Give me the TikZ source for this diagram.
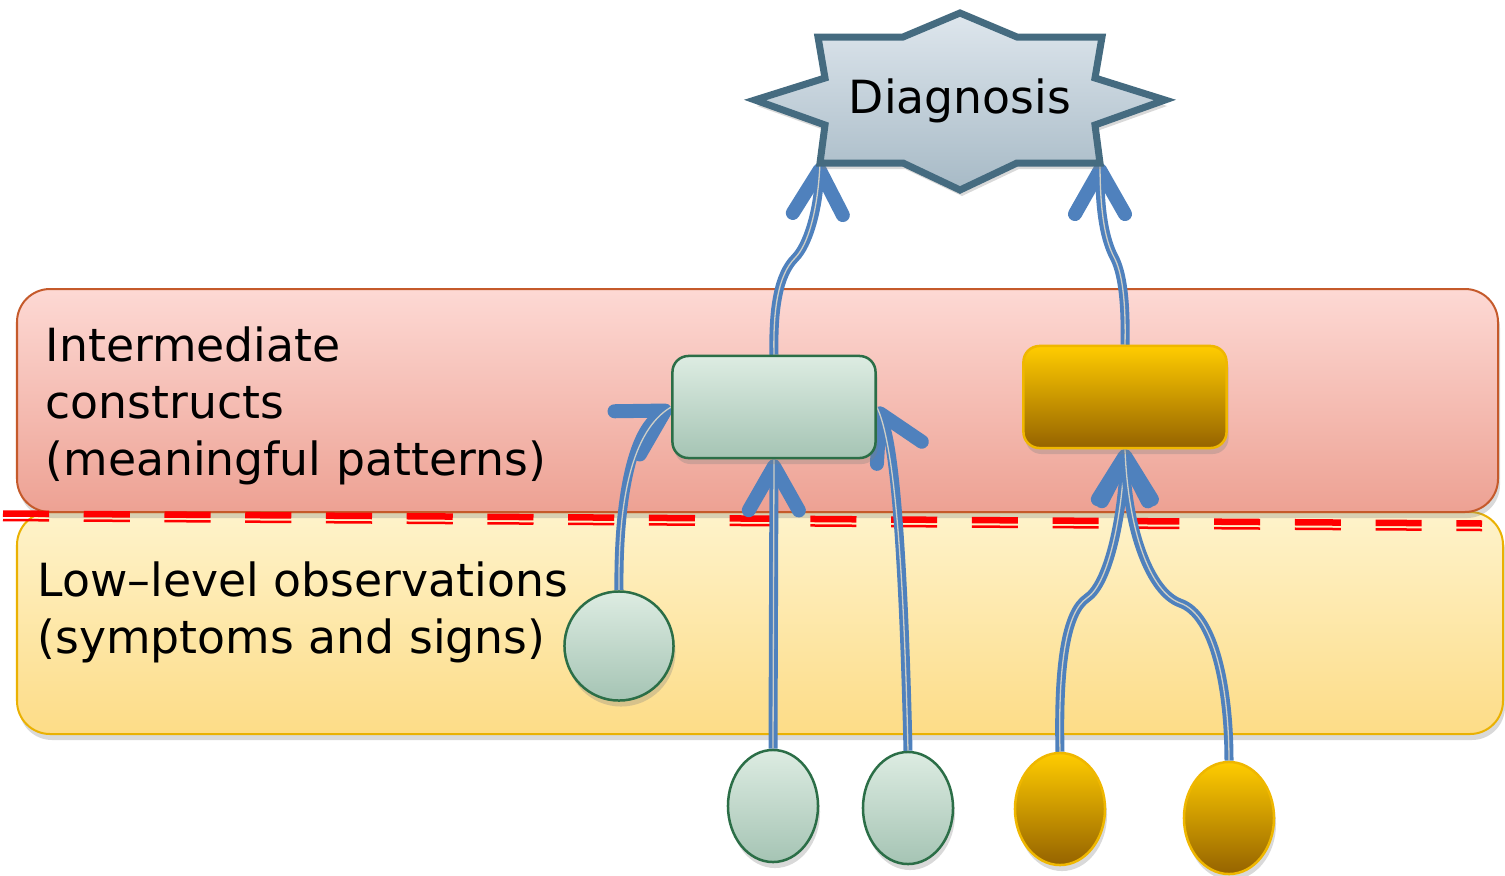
\documentclass[tikz,border=0pt]{standalone}
\usepackage{fontspec}
\setmainfont{DejaVu Sans}
\usetikzlibrary{arrows.meta,shapes.geometric,shadows}

\definecolor{linkblue}{HTML}{4F81BD}
\definecolor{gapgray}{HTML}{CFCFC6}
\definecolor{redtop}{HTML}{FDD9D4}
\definecolor{redbot}{HTML}{EDA193}
\definecolor{redline}{HTML}{C55A2B}
\definecolor{yeltop}{HTML}{FEF3CB}
\definecolor{yelbot}{HTML}{FDDC87}
\definecolor{yelline}{HTML}{EAB102}
\definecolor{grntop}{HTML}{DDECE2}
\definecolor{grnbot}{HTML}{A5C4B4}
\definecolor{grnline}{HTML}{2B6E47}
\definecolor{orgtop}{HTML}{FFCC00}
\definecolor{orgbot}{HTML}{956300}
\definecolor{orgline}{HTML}{EFB700}
\definecolor{startop}{HTML}{DEE6ED}
\definecolor{starbot}{HTML}{A7BAC6}
\definecolor{starline}{HTML}{456B80}

\pgfdeclarelayer{back}
\pgfdeclarelayer{mid}
\pgfsetlayers{back,mid,main}

\tikzset{
  softshadow/.style={drop shadow={opacity=0.3, shadow xshift=0.02cm, shadow yshift=-0.06cm}},
  band/.style={line width=0.02cm, rounded corners=0.33cm, softshadow},
  greenfill/.style={draw=grnline, line width=0.025cm, top color=grntop, bottom color=grnbot, softshadow},
  goldfill/.style={draw=orgline, line width=0.025cm, top color=orgtop, bottom color=orgbot, softshadow},
  patbox/.style={rectangle, rounded corners=0.16cm, minimum width=2.03cm, minimum height=1.02cm, inner sep=0pt},
  obsegg/.style={ellipse, minimum width=0.9cm, minimum height=1.12cm, inner sep=0pt},
  link/.style={draw=linkblue, line width=0.09cm,
    -{Straight Barb[length=0.44cm 0, width=0.5cm 0, line width=0.14cm 0, line cap=round, line join=round]},
    postaction={draw=gapgray, line width=0.013cm, arrows=-}},
  bandtext/.style={anchor=north west, inner sep=0pt, align=left, font=\fontsize{13}{16.2}\selectfont},
  redcut/.style={draw=red, dash pattern=on 0.46cm off 0.347cm}
}

\begin{document}
\begin{tikzpicture}[x=0.01cm, y=-0.01cm]
	\useasboundingbox (0,0) rectangle (1505,875);

	\begin{pgfonlayer}{back}
	\draw[band, draw=yelline, top color=yeltop, bottom color=yelbot] (17,512) rectangle (1503,734);
	\draw[band, draw=redline, top color=redtop, bottom color=redbot] (17,289) rectangle (1498,512);
	\draw[redcut, line width=0.065cm] (3,513.5) -- (1482,523.5);
	\draw[redcut, line width=0.025cm] (3,520) -- (1482,530);
	\end{pgfonlayer}

	\node[bandtext] (midtext) at (45,326) {Intermediate\\constructs\\(meaningful patterns)};
	\node[bandtext] (lowtext) at (37,561) {Low–level observations\\(symptoms and signs)};

	\draw[draw=starline, line width=0.07cm, top color=startop, bottom color=starbot, softshadow]
		(960,13) -- (1017,37) -- (1102,37) -- (1095,78) -- (1165,100) -- (1095,125) -- (1100,163)
		-- (1017,163) -- (960,190) -- (903,163) -- (820,163) -- (825,125) -- (755,100) -- (825,78)
		-- (818,37) -- (903,37) -- cycle;
	\node[anchor=base, inner sep=0pt, font=\fontsize{13}{15}\selectfont] (dg) at (960,113) {Diagnosis};
	\coordinate (dgl) at (820,163);
	\coordinate (dgr) at (1100,163);

	\node[patbox, greenfill] (pat1) at (774,407) {};
	\node[patbox, goldfill] (pat2) at (1125,397) {};

	\node[circle, minimum size=1.09cm, inner sep=0pt, greenfill] (obs1) at (619,646) {};
	\node[obsegg, greenfill] (obs2) at (773,806) {};
	\node[obsegg, greenfill] (obs3) at (908,808) {};
	\node[obsegg, goldfill] (obs4) at (1060,809) {};
	\node[obsegg, goldfill] (obs5) at (1229,818) {};

	\begin{pgfonlayer}{mid}
	\draw[link] (pat1.north) .. controls (773,310) and (778,275) .. (795,258) .. controls (808,245) and (818,210) .. (dgl);
	\draw[link] (pat2.north) .. controls (1126,300) and (1122,272) .. (1114,257) .. controls (1105,240) and (1100,212) .. (dgr);
	\draw[link] (obs1.north) .. controls (618,500) and (632,430) .. (pat1.west);
	\draw[link] (obs2.north) -- (pat1.south);
	\draw[link] (obs3.north) .. controls (905,620) and (898,450) .. (pat1.east);
	\draw[link] (obs4.north) .. controls (1058,665) and (1066,612) .. (1087,598) .. controls (1108,584) and (1122,520) .. (pat2.south);
	\draw[link] (obs5.north) .. controls (1229,690) and (1215,615) .. (1180,603) .. controls (1150,592) and (1128,530) .. (pat2.south);
	\end{pgfonlayer}
\end{tikzpicture}
\end{document}
